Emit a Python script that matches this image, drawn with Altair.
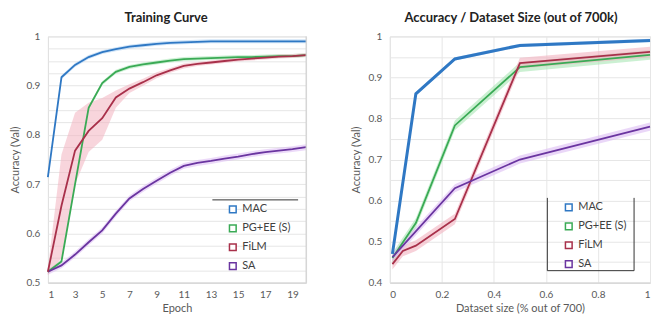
import altair as alt
import pandas as pd

FONT = "Lato"
series = ["MAC", "PG+EE (S)", "FiLM", "SA"]
line_colors = ["#2f78c4", "#3aaa55", "#a8304a", "#6a35a0"]
band_colors = {"MAC": "#a9cdf0", "PG+EE (S)": "#a8e6b4", "FiLM": "#f2b3c0", "SA": "#dcbcf4"}

epochs = list(range(1, 21))
mac_train = [0.714, 0.917, 0.942, 0.958, 0.968, 0.974, 0.979, 0.982, 0.985, 0.987,
             0.988, 0.989, 0.99, 0.99, 0.99, 0.99, 0.99, 0.99, 0.99, 0.99]
pg_train = [0.522, 0.543, 0.70, 0.855, 0.905, 0.928, 0.938, 0.943, 0.947, 0.951,
            0.954, 0.955, 0.956, 0.957, 0.958, 0.958, 0.959, 0.96, 0.96, 0.962]
film_train = [0.522, 0.656, 0.768, 0.808, 0.834, 0.876, 0.894, 0.907, 0.921, 0.931,
              0.94, 0.944, 0.947, 0.95, 0.953, 0.955, 0.957, 0.959, 0.96, 0.962]
sa_train = [0.522, 0.535, 0.557, 0.582, 0.606, 0.64, 0.671, 0.69, 0.707, 0.723,
            0.737, 0.743, 0.747, 0.752, 0.756, 0.761, 0.765, 0.768, 0.771, 0.775]
film_train_lo = [0.515, 0.55, 0.70, 0.765, 0.79, 0.855, 0.885, 0.90, 0.915, 0.926,
                 0.935, 0.94, 0.943, 0.946, 0.949, 0.951, 0.953, 0.955, 0.956, 0.958]
film_train_hi = [0.528, 0.76, 0.845, 0.865, 0.875, 0.89, 0.903, 0.914, 0.927, 0.936,
                 0.945, 0.948, 0.951, 0.954, 0.957, 0.959, 0.961, 0.963, 0.964, 0.966]
mac_train_spread = [0.004] * 20
pg_train_spread = [0.004] * 20
sa_train_spread = [0.006] * 20

size_mac = [0.01, 0.1, 0.25, 0.5, 1.0]
acc_mac = [0.47, 0.86, 0.945, 0.978, 0.99]
size_pg = [0.01, 0.1, 0.25, 0.5, 1.0]
acc_pg = [0.46, 0.545, 0.783, 0.925, 0.955]
size_film = [0.01, 0.05, 0.1, 0.25, 0.5, 1.0]
acc_film = [0.445, 0.477, 0.49, 0.555, 0.935, 0.962]
size_sa = [0.01, 0.25, 0.5, 1.0]
acc_sa = [0.462, 0.63, 0.70, 0.78]
spread_size = {"MAC": 0.004, "PG+EE (S)": 0.012, "FiLM": 0.013, "SA": 0.01}
line_width_size = {"MAC": 3.0, "PG+EE (S)": 1.8, "FiLM": 1.8, "SA": 1.8}

rows = []
for name, ys, sp in [("MAC", mac_train, mac_train_spread), ("PG+EE (S)", pg_train, pg_train_spread),
                     ("SA", sa_train, sa_train_spread)]:
    for e, v, s in zip(epochs, ys, sp):
        rows.append({"model": name, "bc": band_colors[name], "x": e, "acc": v, "lo": v - s, "hi": v + s})
for e, v, lo, hi in zip(epochs, film_train, film_train_lo, film_train_hi):
    rows.append({"model": "FiLM", "bc": band_colors["FiLM"], "x": e, "acc": v, "lo": lo, "hi": hi})
left_df = pd.DataFrame(rows)

rows = []
for name, xs, ys in [("MAC", size_mac, acc_mac), ("PG+EE (S)", size_pg, acc_pg),
                     ("FiLM", size_film, acc_film), ("SA", size_sa, acc_sa)]:
    s = spread_size[name]
    for x, v in zip(xs, ys):
        rows.append({"model": name, "bc": band_colors[name], "lw": line_width_size[name],
                     "x": x, "acc": v, "lo": v - s, "hi": v + s})
right_df = pd.DataFrame(rows)

label_expr = "abs(datum.value*10 - round(datum.value*10)) < 0.001 ? format(datum.value, '.1~f') : ''"

def axis_common(**kw):
    d = dict(labelFont=FONT, labelFontSize=10, labelColor="#595959", titleFont=FONT,
             titleFontSize=11, titleColor="#595959", titleFontWeight="normal", ticks=False,
             gridColor="#e6e6e6", domainColor="#d0d0d0", labelOverlap=False)
    d.update(kw)
    return alt.Axis(**d)

def legend(lx, ly):
    return alt.Legend(title=None, orient="none", legendX=lx, legendY=ly, symbolType="square",
                      symbolSize=45, symbolStrokeWidth=1.5, symbolFillColor="#ffffff",
                      labelFont=FONT, labelFontSize=11, labelColor="#404040", rowPadding=6,
                      padding=0, labelOffset=4)

W1, H1 = 259, 247
W2, H2 = 261, 247

ly_vals = [round(0.5 + 0.025 * i, 3) for i in range(21)]
axXL = axis_common(title="Epoch", values=list(range(1, 20, 2)), grid=False,
                   labelPadding=7, titlePadding=3)
axYL = axis_common(title="Accuracy (Val)", values=ly_vals, labelExpr=label_expr,
                   domain=False, labelPadding=8, titlePadding=6)
scXL = alt.Scale(domain=[1, 20], nice=False)
scYL = alt.Scale(domain=[0.5, 1.0], nice=False)
baseL = alt.Chart(left_df)
bandL = baseL.mark_area(opacity=0.55).encode(
    x=alt.X("x:Q", scale=scXL, axis=axXL), y=alt.Y("lo:Q", scale=scYL, axis=axYL), y2="hi:Q",
    fill=alt.Fill("bc:N", scale=None), detail="model:N")
lineL = baseL.mark_line(strokeWidth=1.8).encode(
    x=alt.X("x:Q", scale=scXL, axis=axXL), y=alt.Y("acc:Q", scale=scYL, axis=axYL),
    color=alt.Color("model:N", scale=alt.Scale(domain=series, range=line_colors),
                    legend=legend(180, 168)))
one = pd.DataFrame({"k": [0]})
decoL1 = alt.Chart(one).mark_rule(color="#333333", strokeWidth=1).encode(
    x=alt.value(165), x2=alt.value(251), y=alt.value(164))
decoL2 = alt.Chart(one).mark_rule(color="#d0d0d0", strokeWidth=1).encode(
    x=alt.value(W1), y=alt.value(0), y2=alt.value(H1))
left = alt.layer(bandL, lineL, decoL1, decoL2).properties(
    width=W1, height=H1,
    title=alt.TitleParams("Training Curve", font=FONT, fontSize=13, fontWeight="bold",
                          color="#222222", offset=6, dx=-11))

ry_vals = [round(0.4 + 0.05 * i, 3) for i in range(13)]
axXR = axis_common(title="Dataset size (% out of 700)", values=[0, 0.2, 0.4, 0.6, 0.8, 1.0],
                   format=".1~f", grid=True, labelPadding=7, titlePadding=3, labelFlush=True)
axYR = axis_common(title="Accuracy (Val)", values=ry_vals, labelExpr=label_expr,
                   domain=False, labelPadding=8, titlePadding=6)
scXR = alt.Scale(domain=[0, 1], nice=False)
scYR = alt.Scale(domain=[0.4, 1.0], nice=False)
baseR = alt.Chart(right_df)
bandR = baseR.mark_area(opacity=0.6).encode(
    x=alt.X("x:Q", scale=scXR, axis=axXR), y=alt.Y("lo:Q", scale=scYR, axis=axYR), y2="hi:Q",
    fill=alt.Fill("bc:N", scale=None), detail="model:N")
lineR = baseR.mark_line().encode(
    x=alt.X("x:Q", scale=scXR, axis=axXR), y=alt.Y("acc:Q", scale=scYR, axis=axYR),
    color=alt.Color("model:N", scale=alt.Scale(domain=series, range=line_colors),
                    legend=legend(174, 166)),
    strokeWidth=alt.StrokeWidth("lw:Q", scale=None))
decoR = alt.Chart(one).mark_rule(color="#333333", strokeWidth=1)
decoR1 = decoR.encode(x=alt.value(158), y=alt.value(162), y2=alt.value(235))
decoR2 = decoR.encode(x=alt.value(245), y=alt.value(162), y2=alt.value(235))
decoR3 = decoR.encode(x=alt.value(158), x2=alt.value(245), y=alt.value(235))
right = alt.layer(bandR, lineR, decoR1, decoR2, decoR3).properties(
    width=W2, height=H2,
    title=alt.TitleParams("Accuracy / Dataset Size (out of 700k)", font=FONT, fontSize=13,
                          fontWeight="bold", color="#222222", offset=6, dx=-9))

chart = alt.hconcat(left, right, spacing=39).resolve_scale(
    color="independent"
).configure_view(stroke=None).configure(
    background="white", padding={"top": 3, "left": 0, "right": 0, "bottom": 0})

chart.save("out.html", embed_options={"renderer": "svg", "actions": False})
